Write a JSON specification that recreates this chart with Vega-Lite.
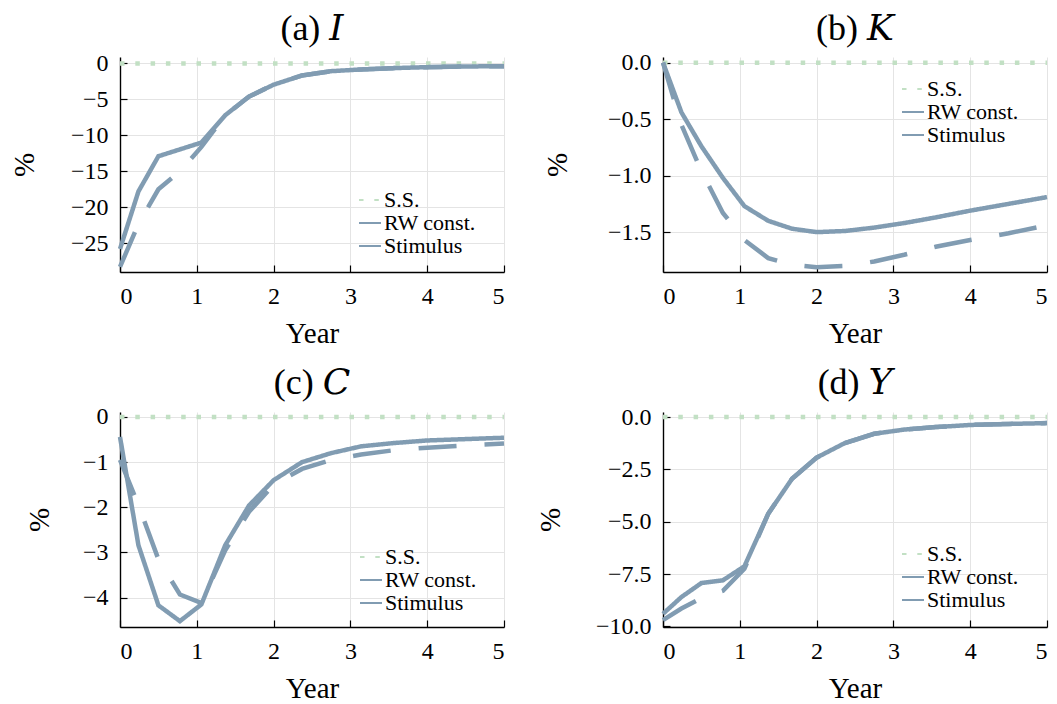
{
  "$schema": "https://vega.github.io/schema/vega-lite/v6.json",
  "background": "white",
  "padding": {"left": 10, "top": 10, "right": 5, "bottom": 5},
  "config": {
    "font": "Liberation Serif",
    "view": {"stroke": null},
    "axis": {
      "labelFont": "Liberation Serif",
      "labelFontSize": 24,
      "labelColor": "black",
      "titleFont": "Liberation Serif",
      "titleFontSize": 29,
      "titleFontWeight": "normal",
      "titleColor": "black",
      "domainColor": "black",
      "domainWidth": 1.4,
      "tickColor": "black",
      "tickWidth": 1.2,
      "tickSize": -7,
      "labelPadding": 19,
      "gridColor": "#e4e4e4",
      "gridWidth": 1
    },
    "axisX": {"titlePadding": 11},
    "legend": {
      "labelFont": "Liberation Serif",
      "labelFontSize": 22,
      "labelColor": "black",
      "symbolType": "stroke",
      "symbolSize": 484,
      "symbolStrokeWidth": 2,
      "labelOffset": 2,
      "rowPadding": 0,
      "padding": 0,
      "title": null,
      "orient": "none"
    },
    "title": {
      "font": "Liberation Serif, DejaVu Serif",
      "fontSize": 36,
      "fontWeight": "normal",
      "color": "black",
      "offset": 3
    }
  },
  "datasets": {
    "I": [
      {"series": "S.S.", "t": 0, "v": 0}, {"series": "S.S.", "t": 5, "v": 0},
      {"series": "RW const.", "t": 0, "v": -28.3}, {"series": "RW const.", "t": 0.24, "v": -22.3}, {"series": "RW const.", "t": 0.5, "v": -17.5}, {"series": "RW const.", "t": 0.78, "v": -15.0}, {"series": "RW const.", "t": 1.06, "v": -11.6}, {"series": "RW const.", "t": 1.37, "v": -7.2}, {"series": "RW const.", "t": 1.68, "v": -4.6}, {"series": "RW const.", "t": 2.0, "v": -2.95}, {"series": "RW const.", "t": 2.37, "v": -1.67}, {"series": "RW const.", "t": 2.75, "v": -1.07}, {"series": "RW const.", "t": 3.14, "v": -0.83}, {"series": "RW const.", "t": 3.55, "v": -0.65}, {"series": "RW const.", "t": 4.0, "v": -0.51}, {"series": "RW const.", "t": 4.5, "v": -0.42}, {"series": "RW const.", "t": 5.0, "v": -0.37},
      {"series": "Stimulus", "t": 0, "v": -25.8}, {"series": "Stimulus", "t": 0.24, "v": -17.8}, {"series": "Stimulus", "t": 0.5, "v": -12.9}, {"series": "Stimulus", "t": 0.78, "v": -11.95}, {"series": "Stimulus", "t": 1.06, "v": -11.0}, {"series": "Stimulus", "t": 1.37, "v": -7.2}, {"series": "Stimulus", "t": 1.68, "v": -4.6}, {"series": "Stimulus", "t": 2.0, "v": -2.95}, {"series": "Stimulus", "t": 2.37, "v": -1.67}, {"series": "Stimulus", "t": 2.75, "v": -1.07}, {"series": "Stimulus", "t": 3.14, "v": -0.83}, {"series": "Stimulus", "t": 3.55, "v": -0.65}, {"series": "Stimulus", "t": 4.0, "v": -0.51}, {"series": "Stimulus", "t": 4.5, "v": -0.42}, {"series": "Stimulus", "t": 5.0, "v": -0.37}
    ],
    "K": [
      {"series": "S.S.", "t": 0, "v": 0}, {"series": "S.S.", "t": 5, "v": 0},
      {"series": "RW const.", "t": 0, "v": 0}, {"series": "RW const.", "t": 0.24, "v": -0.55}, {"series": "RW const.", "t": 0.5, "v": -0.96}, {"series": "RW const.", "t": 0.78, "v": -1.33}, {"series": "RW const.", "t": 1.06, "v": -1.57}, {"series": "RW const.", "t": 1.37, "v": -1.73}, {"series": "RW const.", "t": 1.68, "v": -1.79}, {"series": "RW const.", "t": 2.0, "v": -1.81}, {"series": "RW const.", "t": 2.37, "v": -1.80}, {"series": "RW const.", "t": 2.75, "v": -1.76}, {"series": "RW const.", "t": 3.14, "v": -1.70}, {"series": "RW const.", "t": 3.55, "v": -1.63}, {"series": "RW const.", "t": 4.0, "v": -1.57}, {"series": "RW const.", "t": 4.5, "v": -1.51}, {"series": "RW const.", "t": 5.0, "v": -1.44},
      {"series": "Stimulus", "t": 0, "v": 0}, {"series": "Stimulus", "t": 0.24, "v": -0.44}, {"series": "Stimulus", "t": 0.5, "v": -0.74}, {"series": "Stimulus", "t": 0.78, "v": -1.02}, {"series": "Stimulus", "t": 1.06, "v": -1.27}, {"series": "Stimulus", "t": 1.37, "v": -1.40}, {"series": "Stimulus", "t": 1.68, "v": -1.47}, {"series": "Stimulus", "t": 2.0, "v": -1.50}, {"series": "Stimulus", "t": 2.37, "v": -1.49}, {"series": "Stimulus", "t": 2.75, "v": -1.46}, {"series": "Stimulus", "t": 3.14, "v": -1.42}, {"series": "Stimulus", "t": 3.55, "v": -1.37}, {"series": "Stimulus", "t": 4.0, "v": -1.31}, {"series": "Stimulus", "t": 4.5, "v": -1.25}, {"series": "Stimulus", "t": 5.0, "v": -1.19}
    ],
    "C": [
      {"series": "S.S.", "t": 0, "v": 0}, {"series": "S.S.", "t": 5, "v": 0},
      {"series": "RW const.", "t": 0, "v": -0.95}, {"series": "RW const.", "t": 0.24, "v": -1.95}, {"series": "RW const.", "t": 0.5, "v": -3.15}, {"series": "RW const.", "t": 0.78, "v": -3.93}, {"series": "RW const.", "t": 1.06, "v": -4.12}, {"series": "RW const.", "t": 1.37, "v": -2.95}, {"series": "RW const.", "t": 1.68, "v": -2.1}, {"series": "RW const.", "t": 2.0, "v": -1.5}, {"series": "RW const.", "t": 2.37, "v": -1.15}, {"series": "RW const.", "t": 2.75, "v": -0.95}, {"series": "RW const.", "t": 3.14, "v": -0.83}, {"series": "RW const.", "t": 3.55, "v": -0.74}, {"series": "RW const.", "t": 4.0, "v": -0.68}, {"series": "RW const.", "t": 4.5, "v": -0.63}, {"series": "RW const.", "t": 5.0, "v": -0.59},
      {"series": "Stimulus", "t": 0, "v": -0.44}, {"series": "Stimulus", "t": 0.24, "v": -2.84}, {"series": "Stimulus", "t": 0.5, "v": -4.17}, {"series": "Stimulus", "t": 0.78, "v": -4.52}, {"series": "Stimulus", "t": 1.06, "v": -4.15}, {"series": "Stimulus", "t": 1.37, "v": -2.84}, {"series": "Stimulus", "t": 1.68, "v": -1.96}, {"series": "Stimulus", "t": 2.0, "v": -1.40}, {"series": "Stimulus", "t": 2.37, "v": -1.0}, {"series": "Stimulus", "t": 2.75, "v": -0.80}, {"series": "Stimulus", "t": 3.14, "v": -0.65}, {"series": "Stimulus", "t": 3.55, "v": -0.58}, {"series": "Stimulus", "t": 4.0, "v": -0.52}, {"series": "Stimulus", "t": 4.5, "v": -0.49}, {"series": "Stimulus", "t": 5.0, "v": -0.46}
    ],
    "Y": [
      {"series": "S.S.", "t": 0, "v": 0}, {"series": "S.S.", "t": 5, "v": 0},
      {"series": "RW const.", "t": 0, "v": -9.7}, {"series": "RW const.", "t": 0.24, "v": -9.15}, {"series": "RW const.", "t": 0.5, "v": -8.65}, {"series": "RW const.", "t": 0.78, "v": -8.3}, {"series": "RW const.", "t": 1.06, "v": -7.25}, {"series": "RW const.", "t": 1.37, "v": -4.62}, {"series": "RW const.", "t": 1.68, "v": -2.95}, {"series": "RW const.", "t": 2.0, "v": -1.94}, {"series": "RW const.", "t": 2.37, "v": -1.24}, {"series": "RW const.", "t": 2.75, "v": -0.80}, {"series": "RW const.", "t": 3.14, "v": -0.6}, {"series": "RW const.", "t": 3.55, "v": -0.48}, {"series": "RW const.", "t": 4.0, "v": -0.38}, {"series": "RW const.", "t": 4.5, "v": -0.33}, {"series": "RW const.", "t": 5.0, "v": -0.29},
      {"series": "Stimulus", "t": 0, "v": -9.4}, {"series": "Stimulus", "t": 0.24, "v": -8.6}, {"series": "Stimulus", "t": 0.5, "v": -7.93}, {"series": "Stimulus", "t": 0.78, "v": -7.8}, {"series": "Stimulus", "t": 1.06, "v": -7.13}, {"series": "Stimulus", "t": 1.37, "v": -4.62}, {"series": "Stimulus", "t": 1.68, "v": -2.95}, {"series": "Stimulus", "t": 2.0, "v": -1.94}, {"series": "Stimulus", "t": 2.37, "v": -1.24}, {"series": "Stimulus", "t": 2.75, "v": -0.80}, {"series": "Stimulus", "t": 3.14, "v": -0.6}, {"series": "Stimulus", "t": 3.55, "v": -0.48}, {"series": "Stimulus", "t": 4.0, "v": -0.38}, {"series": "Stimulus", "t": 4.5, "v": -0.33}, {"series": "Stimulus", "t": 5.0, "v": -0.29}
    ]
  },
  "resolve": {
    "scale": {"color": "independent", "strokeDash": "independent"},
    "legend": {"color": "independent", "strokeDash": "independent"}
  },
  "columns": 2,
  "spacing": {"row": 16, "column": 23},
  "concat": [
    {
      "width": 384, "height": 215,
      "title": {"text": "(a) 𝐼"},
      "data": {"name": "I"},
      "mark": {"type": "line", "strokeWidth": 4.5, "strokeCap": "butt"},
      "encoding": {
        "x": {"field": "t", "type": "quantitative", "scale": {"domain": [0, 5], "nice": false}, "axis": {"title": "Year", "values": [0, 1, 2, 3, 4, 5], "format": "d"}},
        "y": {"field": "v", "type": "quantitative", "scale": {"domain": [-29.0, 0.9], "nice": false, "zero": false}, "axis": {"title": "%", "titlePadding": 31, "values": [0, -5, -10, -15, -20, -25], "format": "d"}},
        "color": {"field": "series", "type": "nominal", "scale": {"domain": ["S.S.", "RW const.", "Stimulus"], "range": ["#c2e0c4", "#819cb2", "#819cb2"]},
          "legend": {"orient": "none", "legendX": 238, "legendY": 131}},
        "strokeDash": {"field": "series", "type": "nominal", "scale": {"domain": ["S.S.", "RW const.", "Stimulus"], "range": [[4.5, 10.8], [38, 28], [1, 0]]},
          "legend": {"orient": "none", "legendX": 238, "legendY": 131}}
      }
    },
    {
      "width": 384, "height": 215,
      "title": {"text": "(b) 𝐾"},
      "data": {"name": "K"},
      "mark": {"type": "line", "strokeWidth": 4.5, "strokeCap": "butt"},
      "encoding": {
        "x": {"field": "t", "type": "quantitative", "scale": {"domain": [0, 5], "nice": false}, "axis": {"title": "Year", "values": [0, 1, 2, 3, 4, 5], "format": "d"}},
        "y": {"field": "v", "type": "quantitative", "scale": {"domain": [-1.853, 0.05], "nice": false, "zero": false}, "axis": {"title": "%", "titlePadding": 35, "values": [0, -0.5, -1, -1.5], "format": ".1f"}},
        "color": {"field": "series", "type": "nominal", "scale": {"domain": ["S.S.", "RW const.", "Stimulus"], "range": ["#c2e0c4", "#819cb2", "#819cb2"]},
          "legend": {"orient": "none", "legendX": 238, "legendY": 20}},
        "strokeDash": {"field": "series", "type": "nominal", "scale": {"domain": ["S.S.", "RW const.", "Stimulus"], "range": [[4.5, 10.8], [38, 28], [1, 0]]},
          "legend": {"orient": "none", "legendX": 238, "legendY": 20}}
      }
    },
    {
      "width": 384, "height": 215,
      "title": {"text": "(c) 𝐶"},
      "data": {"name": "C"},
      "mark": {"type": "line", "strokeWidth": 4.5, "strokeCap": "butt"},
      "encoding": {
        "x": {"field": "t", "type": "quantitative", "scale": {"domain": [0, 5], "nice": false}, "axis": {"title": "Year", "values": [0, 1, 2, 3, 4, 5], "format": "d"}},
        "y": {"field": "v", "type": "quantitative", "scale": {"domain": [-4.65, 0.11], "nice": false, "zero": false}, "axis": {"title": "%", "titlePadding": 28, "values": [0, -1, -2, -3, -4], "format": "d"}},
        "color": {"field": "series", "type": "nominal", "scale": {"domain": ["S.S.", "RW const.", "Stimulus"], "range": ["#c2e0c4", "#819cb2", "#819cb2"]},
          "legend": {"orient": "none", "legendX": 239, "legendY": 133}},
        "strokeDash": {"field": "series", "type": "nominal", "scale": {"domain": ["S.S.", "RW const.", "Stimulus"], "range": [[4.5, 10.8], [38, 28], [1, 0]]},
          "legend": {"orient": "none", "legendX": 239, "legendY": 133}}
      }
    },
    {
      "width": 384, "height": 215,
      "title": {"text": "(d) 𝑌"},
      "data": {"name": "Y"},
      "mark": {"type": "line", "strokeWidth": 4.5, "strokeCap": "butt"},
      "encoding": {
        "x": {"field": "t", "type": "quantitative", "scale": {"domain": [0, 5], "nice": false}, "axis": {"title": "Year", "values": [0, 1, 2, 3, 4, 5], "format": "d"}},
        "y": {"field": "v", "type": "quantitative", "scale": {"domain": [-10.03, 0.24], "nice": false, "zero": false}, "axis": {"title": "%", "titlePadding": 30, "values": [0, -2.5, -5, -7.5, -10], "format": ".1f"}},
        "color": {"field": "series", "type": "nominal", "scale": {"domain": ["S.S.", "RW const.", "Stimulus"], "range": ["#c2e0c4", "#819cb2", "#819cb2"]},
          "legend": {"orient": "none", "legendX": 238, "legendY": 130}},
        "strokeDash": {"field": "series", "type": "nominal", "scale": {"domain": ["S.S.", "RW const.", "Stimulus"], "range": [[4.5, 10.8], [38, 28], [1, 0]]},
          "legend": {"orient": "none", "legendX": 238, "legendY": 130}}
      }
    }
  ]
}
